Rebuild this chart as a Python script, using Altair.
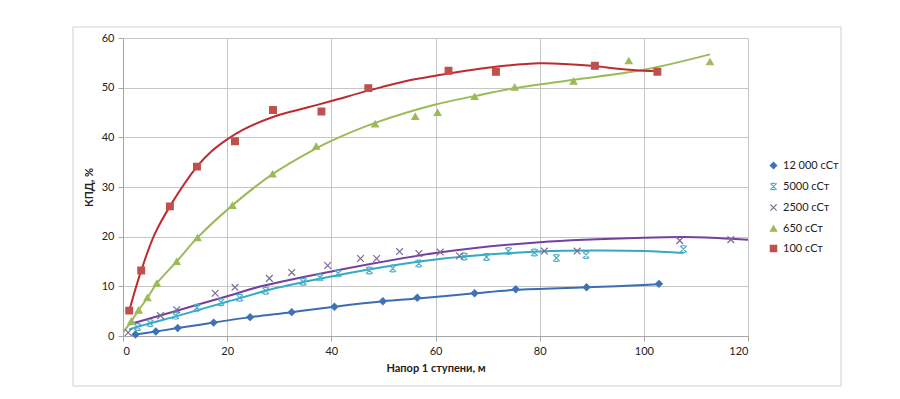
import altair as alt
import pandas as pd

series_names = ["12 000 сСт", "5000 сСт", "2500 сСт", "650 сСт", "100 сСт"]

# measured points
x_12000 = [2.4, 6.3, 10.5, 17.4, 24.4, 32.4, 40.6, 49.9, 56.5, 67.5, 75.4, 89.0, 102.9]
y_12000 = [0.3, 0.9, 1.6, 2.7, 3.8, 4.8, 5.9, 7.0, 7.7, 8.6, 9.4, 9.8, 10.5]

x_5000 = [2.8, 5.2, 10.1, 14.2, 18.8, 22.4, 27.4, 34.6, 37.8, 41.3, 47.3, 51.8, 56.8, 65.5, 69.8, 74.0, 79.0, 83.2, 88.9, 107.6]
y_5000 = [1.8, 2.6, 4.1, 5.7, 6.8, 7.7, 9.1, 10.9, 11.8, 12.6, 13.2, 13.6, 14.6, 16.0, 15.9, 17.1, 16.8, 15.7, 16.3, 17.5]

x_2500 = [1.0, 7.2, 10.3, 17.7, 21.5, 28.1, 32.4, 39.3, 45.6, 48.7, 53.1, 56.8, 60.9, 64.6, 80.9, 87.2, 106.9, 116.7]
y_2500 = [0.7, 4.1, 5.3, 8.6, 9.8, 11.6, 12.8, 14.2, 15.6, 15.6, 17.0, 16.6, 16.9, 16.1, 17.1, 17.1, 19.2, 19.4]

x_650 = [1.6, 3.0, 4.7, 6.5, 10.3, 14.3, 21.0, 28.7, 37.1, 48.4, 56.1, 60.4, 67.5, 75.2, 86.5, 97.1, 112.7]
y_650 = [3.0, 5.2, 7.7, 10.6, 15.0, 19.8, 26.3, 32.6, 38.2, 42.7, 44.2, 45.0, 48.2, 50.1, 51.3, 55.4, 55.2]

x_100 = [1.2, 3.5, 9.0, 14.2, 21.5, 28.8, 38.1, 47.1, 62.5, 71.6, 90.6, 102.6]
y_100 = [5.1, 13.2, 26.1, 34.1, 39.2, 45.5, 45.2, 49.9, 53.4, 53.2, 54.4, 53.2]

# trend lines
tx_12000 = [2.4, 6.3, 10.5, 17.4, 24.4, 32.4, 40.6, 49.9, 57.1, 67.5, 75.4, 89.0, 102.9]
ty_12000 = [0.3, 0.9, 1.6, 2.7, 3.8, 4.8, 5.9, 7.0, 7.6, 8.6, 9.3, 9.8, 10.4]

tx_5000 = [1.2, 5.0, 10.0, 20.0, 30.0, 40.0, 50.0, 60.0, 70.0, 80.0, 90.0, 100.0, 107.6]
ty_5000 = [1.3, 2.5, 3.9, 6.9, 9.8, 12.0, 13.9, 15.4, 16.4, 17.0, 17.2, 17.1, 16.7]

tx_2500 = [1.1, 10.0, 20.0, 26.5, 40.0, 60.0, 80.0, 100.0, 110.0, 120.0]
ty_2500 = [2.3, 5.0, 8.0, 10.0, 13.0, 16.7, 18.9, 19.8, 19.9, 19.4]

tx_650 = [0.1, 1.6, 3.0, 4.7, 6.5, 10.3, 14.3, 21.0, 28.7, 37.1, 40.0, 48.4, 60.0, 67.5, 75.2, 86.5, 100.0, 112.7]
ty_650 = [0.8, 3.0, 5.2, 7.7, 10.6, 15.0, 19.8, 26.3, 32.6, 37.8, 39.3, 42.9, 46.6, 48.3, 49.9, 51.6, 53.6, 56.7]

tx_100 = [1.2, 3.5, 6.0, 9.0, 14.2, 17.0, 20.0, 23.0, 28.8, 35.0, 40.0, 47.1, 55.0, 60.0, 70.0, 80.0, 90.0, 95.0, 100.0, 102.6]
ty_100 = [5.1, 13.2, 20.3, 26.1, 34.1, 37.2, 39.6, 41.5, 44.1, 45.9, 47.3, 49.4, 51.5, 52.4, 54.0, 54.9, 54.4, 53.8, 53.4, 53.4]

x_ticks = [0, 20, 40, 60, 80, 100, 120]
y_ticks = [0, 10, 20, 30, 40, 50, 60]

marker_colors = ["#3f72b5", "#4bacc6", "#7b6a96", "#9bbb59", "#c0504d"]
marker_fills = ["#3f72b5", "transparent", "transparent", "#9bbb59", "#c0504d"]
line_colors = ["#3b6db4", "#33a9c4", "#7340a0", "#9bbb59", "#be2b2f"]
shapes = [
    "diamond",
    "M-1,-1L1,1M-1,1L1,-1M-0.6,-1L0.6,-1M-0.6,1L0.6,1",
    "M-1,-1L1,1M-1,1L1,-1",
    "triangle-up",
    "square",
]

xs = [x_12000, x_5000, x_2500, x_650, x_100]
ys = [y_12000, y_5000, y_2500, y_650, y_100]
txs = [tx_12000, tx_5000, tx_2500, tx_650, tx_100]
tys = [ty_12000, ty_5000, ty_2500, ty_650, ty_100]

rows = []
for name, xv, yv in zip(series_names, xs, ys):
    for a, b in zip(xv, yv):
        rows.append({"series": name, "x": a, "y": b})
df = pd.DataFrame(rows)

font = "Lato"

xscale = alt.Scale(domain=[0, 120], nice=False)
yscale = alt.Scale(domain=[0, 60], nice=False)

frame = alt.Chart(pd.DataFrame({"a": [0]})).mark_rect(
    fill="white", fillOpacity=0, stroke="#cfcfcf", strokeWidth=1
).encode(
    x=alt.value(-50), x2=alt.value(718), y=alt.value(-11), y2=alt.value(348)
)

lines = []
for i, name in enumerate(series_names):
    tdf = pd.DataFrame({"x": txs[i], "y": tys[i]})
    lines.append(
        alt.Chart(tdf).mark_line(
            strokeWidth=2, color=line_colors[i], interpolate="catmull-rom"
        ).encode(
            x=alt.X("x:Q", scale=xscale), y=alt.Y("y:Q", scale=yscale)
        )
    )

points = alt.Chart(df).mark_point(size=45, strokeWidth=1.2, opacity=1).encode(
    x=alt.X(
        "x:Q",
        scale=xscale,
        axis=alt.Axis(values=x_ticks, title="Напор 1 ступени, м", format="d"),
    ),
    y=alt.Y(
        "y:Q",
        scale=yscale,
        axis=alt.Axis(values=y_ticks, title="КПД, %", format="d"),
    ),
    fill=alt.Fill("series:N", scale=alt.Scale(domain=series_names, range=marker_fills), title=None),
    stroke=alt.Stroke("series:N", scale=alt.Scale(domain=series_names, range=marker_colors), title=None),
    shape=alt.Shape("series:N", scale=alt.Scale(domain=series_names, range=shapes), title=None),
)

chart = alt.layer(frame, *lines, points).properties(
    width=625,
    height=298,
    padding={"left": 64, "top": 18, "right": 20, "bottom": 5},
).configure_view(stroke=None).configure_axis(
    grid=True,
    gridColor="#c6c6c6",
    gridWidth=1,
    domainColor="#a6a6a6",
    tickColor="#a6a6a6",
    tickSize=5,
    labelFont=font,
    labelFontSize=11,
    labelColor="#222222",
    labelPadding=4,
    titleFont=font,
    titleFontSize=11,
    titleFontWeight="bold",
    titleColor="#222222",
).configure_axisX(titlePadding=6).configure_axisY(titlePadding=7).configure_legend(
    orient="none",
    legendX=645,
    legendY=122,
    labelFont=font,
    labelFontSize=11,
    labelColor="#222222",
    symbolSize=40,
    symbolStrokeWidth=1.2,
    rowPadding=8,
    labelOffset=4,
)

chart.save("out.html", embed_options={"renderer": "svg", "actions": False})
